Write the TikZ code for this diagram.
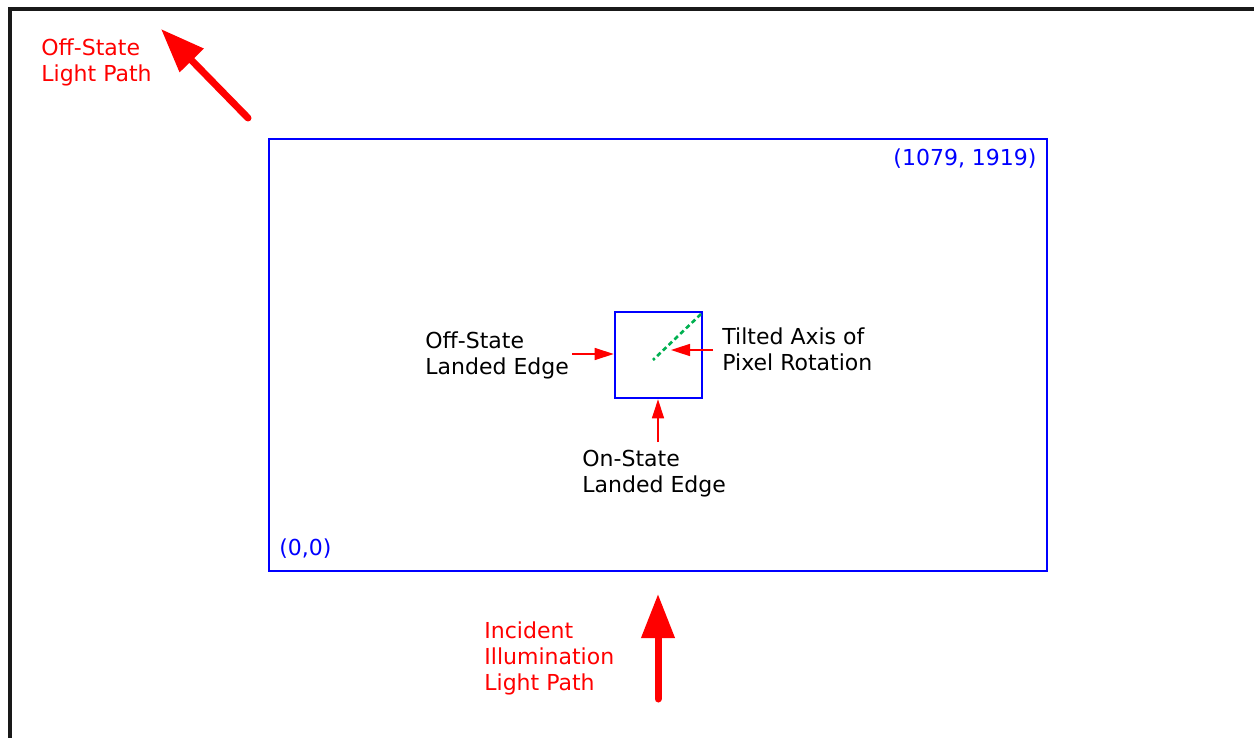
\documentclass[tikz,border=0pt]{standalone}
\usepackage{fontspec}
\setmainfont{DejaVu Sans}
\usetikzlibrary{arrows.meta, positioning, calc}
\tikzset{
  lbl/.style={inner sep=0pt, align=left, font=\fontsize{11}{13}\selectfont},
  redlbl/.style={lbl, text=red},
  bluelbl/.style={lbl, text=blue},
  box/.style={rectangle, draw=blue, line width=1.3pt, inner sep=0pt},
  pointer/.style={-{Triangle[length=9.5pt, width=6pt]}, draw=red, line width=0.8pt},
  lightpath/.style={-{Triangle[length=22pt, width=16pt]}, draw=red, line width=3.5pt, line cap=round}
}

\begin{document}
\begin{tikzpicture}[x=0.5pt, y=-0.5pt,
    axis/.style={draw={rgb,255:red,0;green,176;blue,80}, line width=1.3pt, dash pattern=on 2.4pt off 1.6pt}
    ]
    \useasboundingbox (0,0) rectangle (1254,738);
    \draw[line width=1.6pt, black!90] (10,738) -- (10,9) -- (1254,9);

    % display area and one micromirror
    \node[box, minimum width=389pt, minimum height=216pt] (screen) at (658,355) {};
    \node[box, minimum width=43.5pt, minimum height=43pt] (pixel) at (658.5,355) {};

    \node[bluelbl, anchor=east] (maxcorner) at (1037,159) {(1079, 1919)};
    \node[bluelbl, anchor=west] (origin) at (279,549) {(0,0)};

    % rotation axis
    \coordinate (axtop) at (701,314);
    \coordinate (axmid) at (653,360);
    \draw[axis] (axtop) -- (axmid);

    \node[lbl, anchor=west] (offedge) at (425,355) {Off-State\\Landed Edge};
    \node[lbl, anchor=west] (tilted) at (722,349) {Tilted Axis of\\Pixel Rotation};
    \node[lbl, anchor=west] (onedge) at (582,474) {On-State\\Landed Edge};

    \coordinate (offtail) at (572,354);
    \coordinate (tilttail) at (713,350);
    \coordinate (tilthead) at (671,350);
    \coordinate (ontail) at (658,442);
    \draw[pointer] (offtail) -- (offtail -| pixel.west);
    \draw[pointer] (tilttail) -- (tilthead);
    \draw[pointer] (ontail) -- (ontail |- pixel.south);

    % light paths
    \node[redlbl, anchor=west] (offpath) at (41,62) {Off-State\\Light Path};
    \node[redlbl, anchor=west] (incident) at (484,658) {Incident\\Illumination\\Light Path};
    \coordinate (offstart) at (248,118);
    \coordinate (offend) at (161,29);
    \coordinate (instart) at (658,699);
    \coordinate (inend) at (658,594);
    \draw[lightpath] (offstart) -- (offend);
    \draw[lightpath] (instart) -- (inend);
\end{tikzpicture}
\end{document}
